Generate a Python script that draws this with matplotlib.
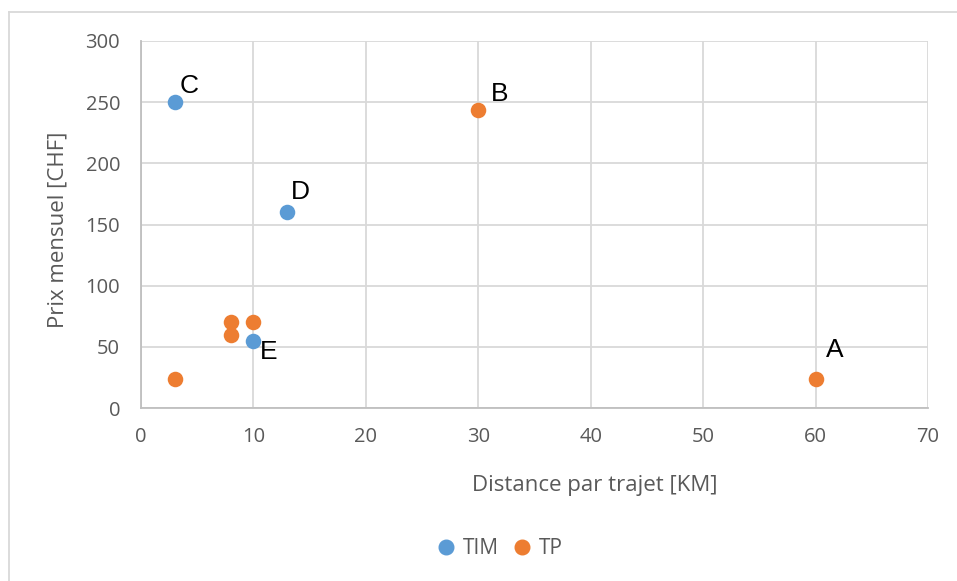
import matplotlib
matplotlib.use("Agg")
import matplotlib.pyplot as plt
from matplotlib.lines import Line2D

# data
tim_x = [3, 13, 10]
tim_y = [250, 160, 55]
tp_x = [30, 60, 3, 8, 8, 10]
tp_y = [244, 24, 24, 70, 60, 70]

point_labels = ["C", "D", "E", "B", "A"]
label_x = [3, 13, 10, 30, 60]
label_y = [250, 160, 55, 244, 24]
label_offsets = [(5, 16), (4, 20), (6, -11), (13, 16), (10, 29)]

x_ticks = [0, 10, 20, 30, 40, 50, 60, 70]
y_ticks = [0, 50, 100, 150, 200, 250, 300]

blue = "#5B9BD5"
orange = "#ED7D31"
grid_col = "#D9D9D9"
text_col = "#595959"
tick_font = "Open Sans"

fig = plt.figure(figsize=(9.57, 5.81), dpi=100)
ax = fig.add_axes([141 / 957, 1 - 408 / 581, (928 - 141) / 957, (408 - 41) / 581])

ax.scatter(tim_x, tim_y, s=125, color=blue, zorder=3, linewidths=0)
ax.scatter(tp_x, tp_y, s=125, color=orange, zorder=3, linewidths=0)

for lab, x, y, off in zip(point_labels, label_x, label_y, label_offsets):
    ax.annotate(lab, (x, y), xytext=off, textcoords="offset pixels",
                ha="left", va="center", fontsize=19,
                family="Liberation Sans", color="black")

ax.set_xlim(0, 70)
ax.set_ylim(0, 300)
ax.set_xticks(x_ticks)
ax.set_yticks(y_ticks)
ax.grid(True, color=grid_col, linewidth=1.3, zorder=0)
ax.set_axisbelow(True)
for side in ["top", "right"]:
    ax.spines[side].set_visible(False)
for side in ["left", "bottom"]:
    ax.spines[side].set_color("#BFBFBF")
    ax.spines[side].set_linewidth(1.3)
ax.tick_params(length=0, labelsize=14.5, labelcolor=text_col)
ax.tick_params(axis="x", pad=14)
ax.tick_params(axis="y", pad=15)
for t in ax.get_xticklabels() + ax.get_yticklabels():
    t.set_family(tick_font)

# axis titles placed where the reference has them
fig.text(595 / 957, 1 - 485 / 581, "Distance par trajet [KM]", ha="center", va="center",
         fontsize=16, color=text_col, family=tick_font)
fig.text(58 / 957, 1 - 230 / 581, "Prix mensuel [CHF]", ha="center", va="center",
         rotation=90, fontsize=16, color=text_col, family=tick_font)

handles = [Line2D([], [], marker="o", linestyle="", color=blue, markersize=10.5, label="TIM"),
           Line2D([], [], marker="o", linestyle="", color=orange, markersize=10.5, label="TP")]
fig.legend(handles=handles, loc="center", bbox_to_anchor=(494 / 957, 1 - 549 / 581),
           ncol=2, frameon=False, handletextpad=-0.2, columnspacing=0.15,
           prop={"family": tick_font, "size": 15}, labelcolor=text_col)

# outer chart frame (top and left edges visible)
fig.add_artist(Line2D([9 / 957, 1], [1 - 12 / 581, 1 - 12 / 581],
                      transform=fig.transFigure, color="#D9D9D9", linewidth=1.3))
fig.add_artist(Line2D([9 / 957, 9 / 957], [0, 1 - 12 / 581],
                      transform=fig.transFigure, color="#D9D9D9", linewidth=1.3))

fig.savefig("out.png", dpi=100)
